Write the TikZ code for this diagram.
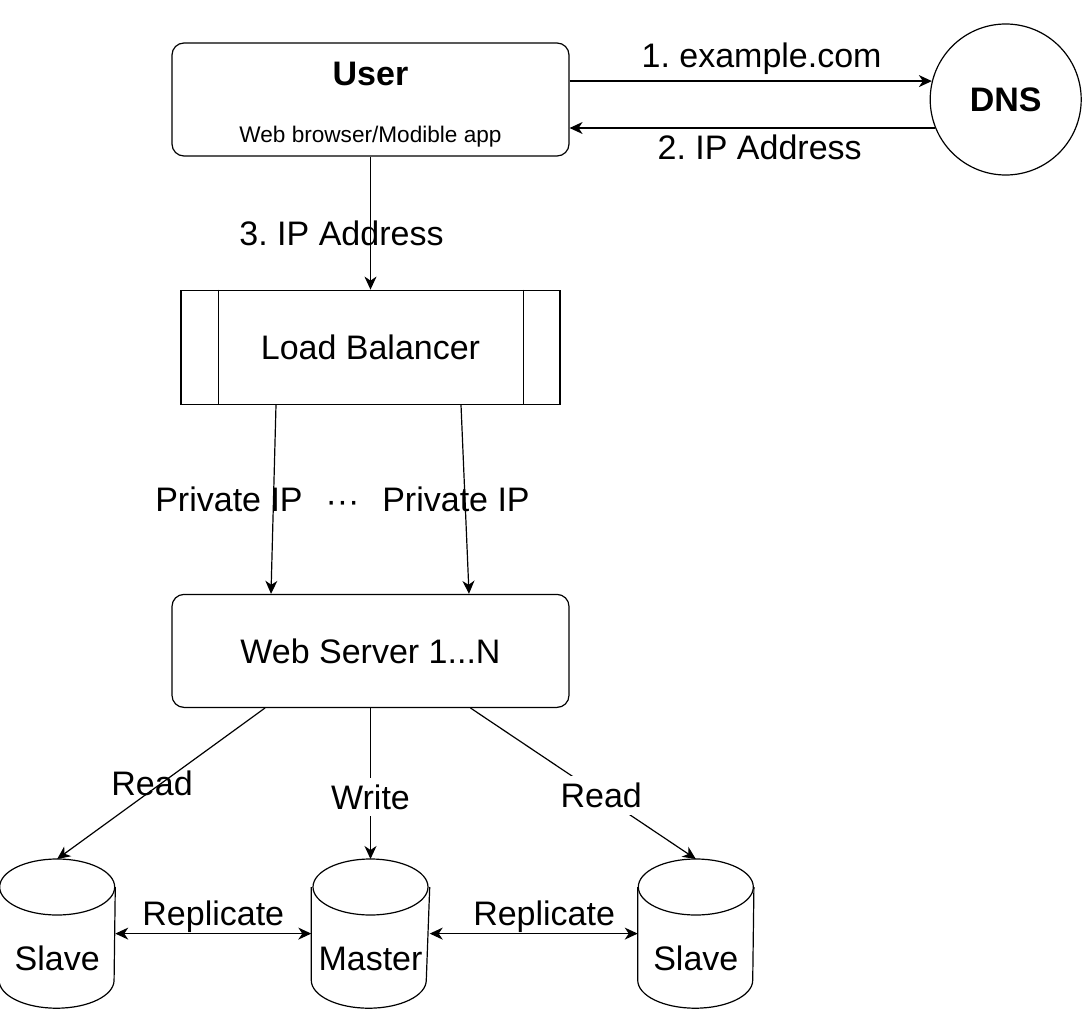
\documentclass[tikz,border=0pt]{standalone}
\usepackage{fontspec}
\setmainfont{Liberation Sans}
\usetikzlibrary{arrows,arrows.meta,positioning,calc}
\frenchspacing

\begin{document}
\begin{tikzpicture}[x=0.5pt,y=-0.5pt,line width=0.6pt,
	>={Stealth[length=6.5pt,width=6pt,inset=2pt]},
	font=\fontsize{17}{20}\selectfont,
	box/.style={draw,rounded corners=6pt,minimum width=198.5pt,minimum height=56.5pt,align=center},
	lb/.style={draw,minimum width=189.5pt,minimum height=57pt},
	dns/.style={draw,circle,minimum size=75.5pt,font=\fontsize{17}{20}\selectfont\bfseries},
	db/.style={minimum width=57.5pt,minimum height=74pt,text height=37pt,text depth=0pt},
	lbl/.style={inner sep=3pt},
	cut/.style={fill=white}]
	\useasboundingbox (0,0) rectangle (1082,1012);

	\node[box] (User) at (370.5,99.5) {\rule{0pt}{16.4pt}\textbf{User}\\[8.5pt]{\fontsize{11.3}{13.6}\selectfont Web browser/Modible app}};
	\node[dns] (DNS) [right=180pt of User] {DNS};
	\node[lb] (LB) [below=66.5pt of User] {Load Balancer};
	\node[box] (Web) [below=94.5pt of LB] {Web Server 1...N};
	\node[db] (Master) [below=75.5pt of Web] {Master};
	\node[db] (SlaveL) [left=98pt of Master] {Slave};
	\node[db] (SlaveR) [right=104pt of Master] {Slave};

	% sides of the load balancer
	\draw ($(LB.north west)+(38,0)$) -- ($(LB.south west)+(38,0)$)
	($(LB.north east)+(-37,0)$) -- ($(LB.south east)+(-37,0)$);

	% the databases
	\foreach \n in {SlaveL,Master,SlaveR} {
		\draw ($(\n.north)+(0,28)$) ellipse [x radius=28.75pt,y radius=14pt];
		\draw ($(\n.north west)+(0,28)$) -- ($(\n.south west)+(0,-28)$)
		arc [start angle=180,end angle=360,x radius=28.75pt,y radius=14pt]
		-- ($(\n.north east)+(0,28)$);
	}

	\path[->] (User.east |- DNS.166) edge node[lbl,above,pos=0.53] {1. example.com} (DNS.166)
	(DNS.202) edge node[lbl,below,pos=0.48] {2. IP Address} (DNS.202 -| User.east)
	(User.south) edge node[pos=0.58,xshift=-14.5pt] {3. IP Address} (User.south |- LB.north)
	($(LB.south)+(-94.5,0)$) edge node[xshift=-22.25pt] (pipL) {Private IP} ($(Web.north)+(-99.5,0)$)
	($(LB.south)+(90.5,0)$) edge node[xshift=-4.5pt] (pipR) {Private IP} ($(Web.north)+(98.5,0)$)
	($(Web.south)+(-105.5,0)$) edge node[xshift=-4.5pt] {Read} (SlaveL.north)
	(Web.south) edge node[cut,pos=0.59] {Write} (Master.north)
	($(Web.south)+(100,0)$) edge node[cut,pos=0.58] {Read} (SlaveR.north)
	(SlaveL.east) edge[<->] node[above,inner sep=0pt] {Replicate} (Master.west)
	(Master.east) edge[<->] node[above,inner sep=0pt,pos=0.55] {Replicate} (SlaveR.west)
	;
	\node[text height=0.72em,text depth=0pt,yshift=-3pt] (dots) at ($(pipL)!0.5!(pipR)$) {···};
\end{tikzpicture}
\end{document}
